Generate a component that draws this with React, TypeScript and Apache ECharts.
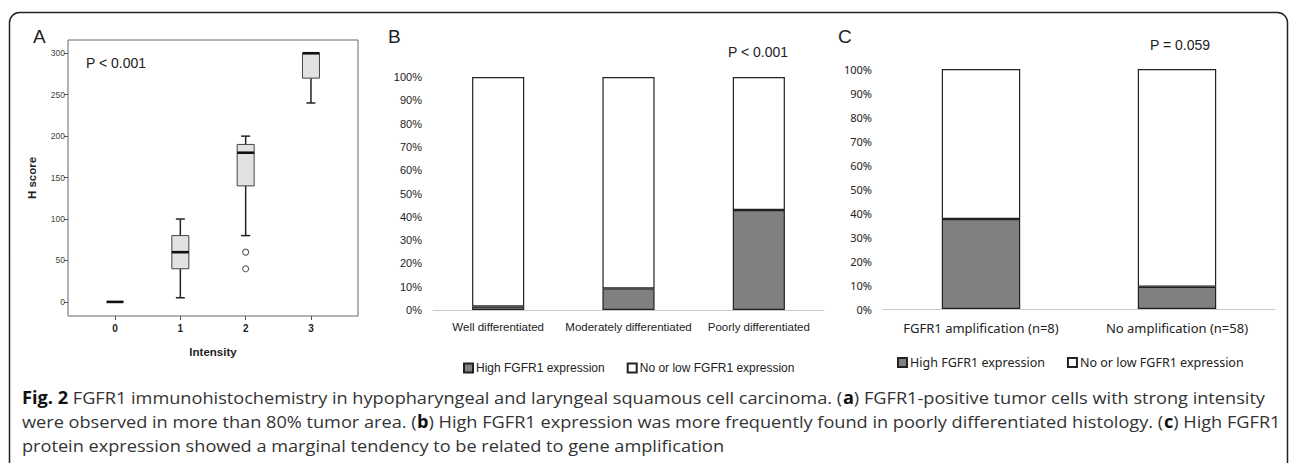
import React, { useEffect, useRef } from "react";
import * as echarts from "echarts";

// Panel A: H score by staining intensity (box plot)
const intensities = [0, 1, 2, 3];
const hMin = [0, 5, 80, 240];
const hQ1 = [0, 40, 140, 270];
const hMedian = [0, 60, 180, 300];
const hQ3 = [0, 80, 190, 300];
const hMax = [0, 100, 200, 300];
const outlierX = [2, 2];
const outlierY = [60, 40];
const hTicks = [0, 50, 100, 150, 200, 250, 300];

// Panel B: differentiation
const diffCategories = ["Well differentiated", "Moderately differentiated", "Poorly differentiated"];
const diffHigh = [1.5, 9.3, 42.9];
const diffLow = [98.5, 90.7, 57.1];

// Panel C: amplification
const ampCategories = ["FGFR1 amplification (n=8)", "No amplification (n=58)"];
const ampHigh = [37.5, 9.3];
const ampLow = [62.5, 90.7];

const seriesNames = ["High FGFR1 expression", "No or low FGFR1 expression"];

const captionLines = [
  [["b", "Fig. 2"], ["n", " FGFR1 immunohistochemistry in hypopharyngeal and laryngeal squamous cell carcinoma. ("], ["b", "a"], ["n", ") FGFR1-positive tumor cells with strong intensity"]],
  [["n", "were observed in more than 80% tumor area. ("], ["b", "b"], ["n", ") High FGFR1 expression was more frequently found in poorly differentiated histology. ("], ["b", "c"], ["n", ") High FGFR1"]],
  [["n", "protein expression showed a marginal tendency to be related to gene amplification"]],
];

const CAP_FONT = '"Open Sans", "Noto Sans", sans-serif';
const CAP_SIZE = 17;

export default function App() {
  const ref = useRef<HTMLDivElement>(null);
  useEffect(() => {
    document.body.style.margin = "0";
    const chart = echarts.init(ref.current!, null, { renderer: "svg" });

    // measure caption line 1 to fit width
    const cv = document.createElement("canvas");
    const ctx = cv.getContext("2d")!;
    const measure = (line: string[][]) =>
      line.reduce((s, [k, t]) => {
        ctx.font = `${k === "b" ? "bold " : ""}${CAP_SIZE}px ${CAP_FONT}`;
        return s + ctx.measureText(t).width;
      }, 0);
    const w1 = measure(captionLines[0] as string[][]);
    const capScale = w1 > 0 ? 1243 / w1 : 1;
    const captionY = [397, 421, 445];

    const caption = captionLines.map((line, i) => ({
      type: "text",
      x: 22,
      y: captionY[i],
      scaleX: capScale,
      silent: true,
      style: {
        x: 0,
        y: 0,
        text: line.map(([k, t]) => (k === "b" ? `{b|${t}}` : t)).join(""),
        fontFamily: CAP_FONT,
        fontSize: CAP_SIZE,
        fill: "#333",
        verticalAlign: "middle",
        rich: { b: { fontWeight: "bold", fontFamily: CAP_FONT, fontSize: CAP_SIZE, fill: "#111" } },
      },
    }));

    const boxRows = intensities.map((x, i) => [x, hMin[i], hQ1[i], hMedian[i], hQ3[i], hMax[i]]);

    const renderBox = (params: any, api: any) => {
      const x = api.value(0);
      const mn = api.value(1), q1 = api.value(2), md = api.value(3), q3 = api.value(4), mx = api.value(5);
      const cx = api.coord([x, 0])[0];
      const y = (v: number) => api.coord([x, v])[1];
      const hw = 8.5, cw = 4.5;
      const line = { stroke: "#222", lineWidth: 1.5 };
      const children: any[] = [];
      if (mx > q3) {
        children.push({ type: "line", shape: { x1: cx, y1: y(q3), x2: cx, y2: y(mx) }, style: line });
        children.push({ type: "line", shape: { x1: cx - cw, y1: y(mx), x2: cx + cw, y2: y(mx) }, style: line });
      }
      if (q1 > mn) {
        children.push({ type: "line", shape: { x1: cx, y1: y(q1), x2: cx, y2: y(mn) }, style: line });
        children.push({ type: "line", shape: { x1: cx - cw, y1: y(mn), x2: cx + cw, y2: y(mn) }, style: line });
      }
      if (q3 > q1) {
        children.push({
          type: "rect",
          shape: { x: cx - hw, y: y(q3), width: hw * 2, height: y(q1) - y(q3) },
          style: { fill: "#e2e2e2", stroke: "#444", lineWidth: 1 },
        });
      }
      children.push({
        type: "line",
        shape: { x1: cx - hw, y1: y(md), x2: cx + hw, y2: y(md) },
        style: { stroke: "#111", lineWidth: 2.6 },
      });
      return { type: "group", children };
    };

    const barBase = { type: "bar", barWidth: "40%", silent: true };
    const highStyle = { color: "#808080", borderColor: "#222", borderWidth: 1.2 };
    const lowStyle = { color: "#ffffff", borderColor: "#222", borderWidth: 1.2 };
    const bcFont = '"Liberation Sans", Arial, sans-serif';
    const cFont = '"Noto Sans", sans-serif';

    chart.setOption({
      animation: false,
      textStyle: { fontFamily: bcFont },
      grid: [
        { left: 68, top: 40, width: 290, height: 276, show: true, borderColor: "#666", borderWidth: 1 },
        { left: 433, top: 77, width: 391, height: 233 },
        { left: 883, top: 69, width: 392, height: 240 },
      ],
      xAxis: [
        {
          gridIndex: 0,
          type: "value",
          min: -0.72,
          max: 3.72,
          axisLine: { show: false, onZero: false },
          splitLine: { show: false },
          axisTick: { show: true, length: 4, lineStyle: { color: "#555" }, customValues: intensities },
          axisLabel: { customValues: intensities, fontWeight: "bold", fontSize: 10, color: "#222", margin: 7 },
          name: "Intensity",
          nameLocation: "middle",
          nameGap: 30,
          nameTextStyle: { fontWeight: "bold", fontSize: 11.5, color: "#222" },
        },
        {
          gridIndex: 1,
          type: "category",
          data: diffCategories,
          axisLine: { lineStyle: { color: "#c8c8c8", width: 1 } },
          axisTick: { show: false },
          axisLabel: { interval: 0, hideOverlap: false, fontSize: 11.5, color: "#222", margin: 11, fontFamily: bcFont },
        },
        {
          gridIndex: 2,
          type: "category",
          data: ampCategories,
          axisLine: { lineStyle: { color: "#c8c8c8", width: 1 } },
          axisTick: { show: false },
          axisLabel: { interval: 0, fontSize: 13, color: "#222", margin: 12, fontFamily: cFont },
        },
      ],
      yAxis: [
        {
          gridIndex: 0,
          type: "value",
          min: -17,
          max: 316,
          axisLine: { show: false, onZero: false },
          splitLine: { show: false },
          axisTick: { show: true, length: 4, lineStyle: { color: "#555" }, customValues: hTicks },
          axisLabel: { customValues: hTicks, fontSize: 8.5, color: "#444", margin: 3 },
          name: "H score",
          nameLocation: "middle",
          nameGap: 30,
          nameTextStyle: { fontWeight: "bold", fontSize: 11.5, color: "#222" },
        },
        {
          gridIndex: 1,
          type: "value",
          min: 0,
          max: 100,
          interval: 10,
          axisLine: { show: false },
          axisTick: { show: false },
          splitLine: { show: false },
          axisLabel: { formatter: "{value}%", fontSize: 11, color: "#222", margin: 11, fontFamily: bcFont },
        },
        {
          gridIndex: 2,
          type: "value",
          min: 0,
          max: 100,
          interval: 10,
          axisLine: { show: false },
          axisTick: { show: false },
          splitLine: { show: false },
          axisLabel: { formatter: "{value}%", fontSize: 11, color: "#222", margin: 11, fontFamily: cFont },
        },
      ],
      legend: [
        {
          data: seriesNames,
          left: 458,
          top: 357,
          itemWidth: 9,
          itemHeight: 9,
          itemGap: 22,
          icon: "rect",
          selectedMode: false,
          textStyle: { fontSize: 12, color: "#222", fontFamily: bcFont, padding: [0, 0, 0, -2] },
        },
        {
          data: seriesNames,
          left: 892,
          top: 351,
          itemWidth: 9,
          itemHeight: 9,
          itemGap: 22,
          icon: "rect",
          selectedMode: false,
          textStyle: { fontSize: 12.5, color: "#222", fontFamily: cFont, padding: [0, 0, 0, -2] },
        },
      ],
      series: [
        {
          type: "custom",
          xAxisIndex: 0,
          yAxisIndex: 0,
          data: boxRows,
          encode: { x: 0, y: [1, 2, 3, 4, 5] },
          renderItem: renderBox,
          silent: true,
        },
        {
          type: "scatter",
          xAxisIndex: 0,
          yAxisIndex: 0,
          data: outlierX.map((x, i) => [x, outlierY[i]]),
          symbol: "circle",
          symbolSize: 6,
          itemStyle: { color: "#fff", borderColor: "#333", borderWidth: 1.1 },
          silent: true,
        },
        { ...barBase, name: seriesNames[0], stack: "b", xAxisIndex: 1, yAxisIndex: 1, data: diffHigh, itemStyle: highStyle },
        { ...barBase, name: seriesNames[1], stack: "b", xAxisIndex: 1, yAxisIndex: 1, data: diffLow, itemStyle: lowStyle },
        { ...barBase, name: seriesNames[0], stack: "c", xAxisIndex: 2, yAxisIndex: 2, data: ampHigh, itemStyle: highStyle },
        { ...barBase, name: seriesNames[1], stack: "c", xAxisIndex: 2, yAxisIndex: 2, data: ampLow, itemStyle: lowStyle },
      ],
      graphic: [
        {
          type: "rect",
          silent: true,
          shape: { x: 9.5, y: 12.5, width: 1278, height: 480, r: 10 },
          style: { fill: "none", stroke: "#222", lineWidth: 1.5 },
        },
        { type: "text", x: 33, y: 36, style: { text: "A", fontSize: 19, fill: "#222", fontFamily: bcFont, verticalAlign: "middle" } },
        { type: "text", x: 388, y: 36, style: { text: "B", fontSize: 19, fill: "#222", fontFamily: bcFont, verticalAlign: "middle" } },
        { type: "text", x: 838, y: 36, style: { text: "C", fontSize: 19, fill: "#222", fontFamily: bcFont, verticalAlign: "middle" } },
        { type: "text", x: 86, y: 63, style: { text: "P < 0.001", fontSize: 14, fill: "#222", fontFamily: bcFont, verticalAlign: "middle" } },
        { type: "text", x: 758, y: 52, style: { text: "P < 0.001", fontSize: 14, fill: "#222", fontFamily: bcFont, align: "center", verticalAlign: "middle" } },
        { type: "text", x: 1180, y: 45, style: { text: "P = 0.059", fontSize: 14, fill: "#222", fontFamily: bcFont, align: "center", verticalAlign: "middle" } },
        ...caption,
      ],
    });
    return () => chart.dispose();
  }, []);
  return <div ref={ref} style={{ width: 1290, height: 463 }} />;
}
